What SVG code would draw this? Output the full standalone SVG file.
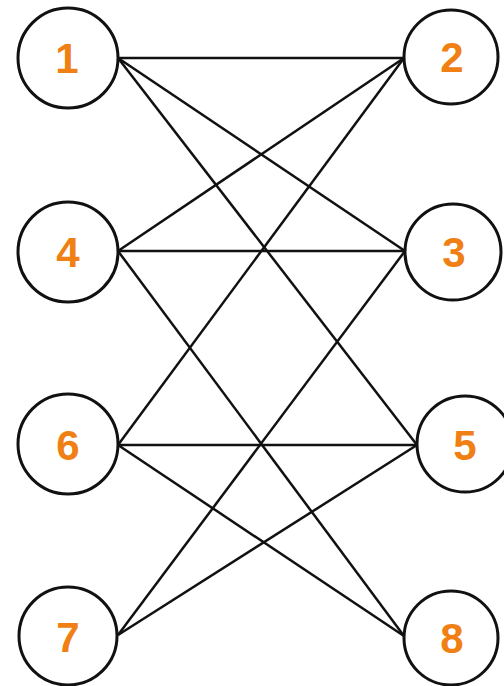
<svg xmlns="http://www.w3.org/2000/svg" width="504" height="686" viewBox="0 0 504 686">
<style>
.n circle{fill:#fff;stroke:#111;stroke-width:3}
.n text{font-family:"Liberation Sans",Arial,sans-serif;font-weight:bold;font-size:42px;fill:#F07F14;text-anchor:middle}
#edges line{stroke:#111;stroke-width:2.5}
</style>
<rect width="504" height="686" fill="#fff"/>
<g id="edges">
<line x1="118" y1="58" x2="404" y2="58"/>
<line x1="118" y1="58" x2="405" y2="251"/>
<line x1="118" y1="58" x2="417" y2="445"/>
<line x1="118" y1="251" x2="404" y2="58"/>
<line x1="118" y1="251" x2="405" y2="251"/>
<line x1="118" y1="251" x2="404" y2="636"/>
<line x1="118" y1="445" x2="404" y2="58"/>
<line x1="118" y1="445" x2="417" y2="445"/>
<line x1="118" y1="445" x2="404" y2="636"/>
<line x1="118" y1="635" x2="405" y2="251"/>
<line x1="118" y1="635" x2="417" y2="445"/>
</g>
<g id="node1" class="n"><circle cx="68" cy="58" r="50"/><text x="67" y="73">1</text></g>
<g id="node2" class="n"><circle cx="451" cy="57" r="47"/><text x="452" y="72">2</text></g>
<g id="node4" class="n"><circle cx="68" cy="252" r="50"/><text x="68" y="267">4</text></g>
<g id="node3" class="n"><circle cx="453" cy="252" r="48"/><text x="454" y="267">3</text></g>
<g id="node6" class="n"><circle cx="68" cy="444" r="50"/><text x="68" y="460">6</text></g>
<g id="node5" class="n"><circle cx="465" cy="444" r="48"/><text x="465" y="460">5</text></g>
<g id="node7" class="n"><circle cx="68" cy="636" r="49"/><text x="68" y="652">7</text></g>
<g id="node8" class="n"><circle cx="451" cy="638" r="47"/><text x="452" y="653">8</text></g>
</svg>
